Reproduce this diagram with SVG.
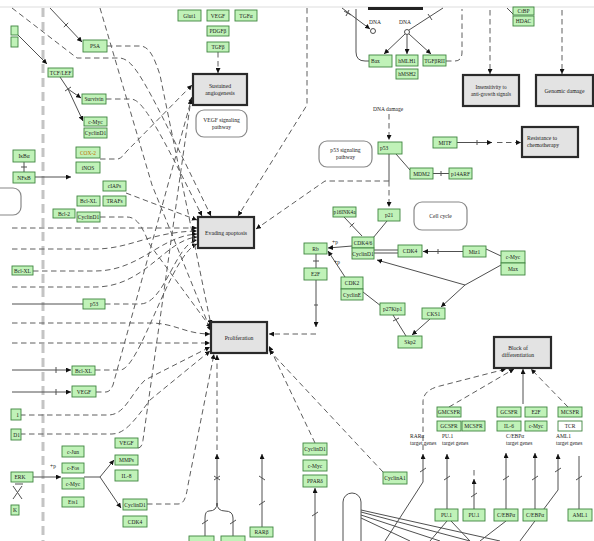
<svg xmlns="http://www.w3.org/2000/svg" width="594" height="541" viewBox="0 0 594 541">
<defs>
<marker id="a" viewBox="0 0 6 6" refX="6" refY="3" markerWidth="5" markerHeight="5" orient="auto" markerUnits="userSpaceOnUse"><path d="M0,0L6,3L0,6z" fill="#111"/></marker>
</defs>
<style>
.g rect{fill:#c0f2b8;stroke:#3f853f;stroke-width:0.9}
.g rect.w{fill:#fff}
text{font-family:"Liberation Serif",serif;font-size:5.5px;fill:#1a1a1a;text-anchor:middle}
.ph rect{fill:#e3e3e3;stroke:#2a2a2a;stroke-width:2.2}
.ph text{font-size:5.7px}
.rr rect{fill:#fff;stroke:#888;stroke-width:1.2}
.rr text{font-size:5.6px}
.lab{text-anchor:start}
.d{fill:none;stroke:#5e5e5e;stroke-width:1;stroke-dasharray:5.5 3.5}
.s{fill:none;stroke:#505050;stroke-width:1}
.m{marker-end:url(#a)}
</style>
<rect width="594" height="541" fill="#fff"/>
<line x1="0" y1="7" x2="594" y2="7" stroke="#ddd" stroke-width="1"/>
<line x1="43" y1="8" x2="43" y2="541" stroke="#c4c4c4" stroke-width="3" stroke-dasharray="9 5"/>

<g id="connectors">
<path class="d m" d="M100,159 H118 Q122,158 126,152 L192,85"/>
<path class="d m" d="M96,392 H106 Q110,392 113,385 L192,97"/>
<path class="d m" d="M138,448 Q142,448 143,440 L191,99"/>
<path class="d m" d="M218,52 V73"/>
<path class="d m" d="M126,193 L197,220"/>
<path class="d m" d="M12,228 H197"/>
<path class="d m" d="M12,249 H95 C130,249 150,232 197,231"/>
<path class="d m" d="M33,271 H95 C140,271 160,236 197,234"/>
<path class="d m" d="M12,287 H95 C145,287 165,240 197,237"/>
<path class="d m" d="M105,304 H140 C165,304 175,244 197,240"/>
<path class="d m" d="M95,370 H120 C140,370 170,255 197,244"/>
<path class="d m" d="M106,99 H130 C140,99 150,110 202,216"/>
<path class="d m" d="M12,8 L77,58 H120 C135,60 145,80 211,216"/>
<path class="d m" d="M307,8 V105 L238,216"/>
<path class="d m" d="M389,181 H325 L256,229"/>
<path class="d m" d="M107,46 H140 C150,46 155,60 160,75 L211,325"/>
<path class="d m" d="M100,8 L152,185 L211,331"/>
<path class="d m" d="M100,217 H127 C140,217 145,235 150,245 L211,328"/>
<path class="d m" d="M12,323 H150 C175,323 185,334 210,334"/>
<path class="d m" d="M12,343 H210"/>
<path class="d m" d="M20,415 H108 C125,415 130,395 145,380 L210,347"/>
<path class="d m" d="M20,434 H112 C125,434 135,420 150,400 L210,351"/>
<path class="d m" d="M147,504 H178 C184,504 186,498 188,485 L214,354"/>
<path class="d m" d="M217,450 V355"/>
<path class="d m" d="M316,334 H269"/>
<path class="d m" d="M315,443 L269,346"/>
<path class="d m" d="M383,472 L269,350"/>
<path class="d m" d="M423,450 V402 Q423,390 440,386 L506,369"/>
<path class="d m" d="M449,407 L514,369"/>
<path class="d m" d="M568,407 L531,369"/>
<path class="s m" d="M523,404 V369"/>
<path class="s m" d="M50,8 L82,42"/>
<path class="s" d="M63.8,27.1 L68.2,22.9"/>
<path class="s m" d="M15,32 L47,64"/>
<path class="s m" d="M60,77 L68,89 L81,98"/>
<path class="s m" d="M68,89 L83,121"/>
<path class="s" d="M65,91 L71,87"/>
<path class="s m" d="M35,177 H71"/>
<path class="s" d="M24,162 V172 M21,167 H27"/>
<path class="s" d="M12,304 H83"/>
<path class="s m" d="M12,370 H71"/>
<path class="s" d="M56,367 V373"/>
<path class="s m" d="M12,392 H71"/>
<path class="s" d="M56,389 V395"/>
<path class="s m" d="M33,477 H61"/>
<path class="s" d="M13,486 L22,499 M22,486 L13,499 M15,484 H23"/>
<path class="s" d="M84,477 H100"/>
<path class="s m" d="M100,477 L114,460"/>
<path class="s m" d="M100,477 L121,508"/>
<path class="s" d="M316,254 V268 M313,261 H319"/>
<path class="s m" d="M316,280 V327"/>
<path class="s" d="M314,305 H318"/>
<path class="s m" d="M352,246 L328,248"/>
<path class="s m" d="M345,277 L328,251"/>
<path class="s" d="M344,217 L362,236 M349.8,227.1 L354.2,222.9"/>
<path class="s" d="M387,221 L373,238"/>
<path class="s" d="M389,154 V181"/>
<path class="d m" d="M389,181 V207"/>
<path class="d m" d="M389,114 V140"/>
<path class="s" d="M396,154 L410,170"/>
<path class="s" d="M433,173.5 H449 M441,171 V176"/>
<path class="s m" d="M457,142.5 H492"/>
<path class="s" d="M477,140 V145"/>
<path class="d m" d="M497,142.5 H521"/>
<path class="s" d="M374,250 H398 M374,253 H398"/>
<path class="s m" d="M463,251.5 H423"/>
<path class="s" d="M438,249 V254"/>
<path class="s" d="M501,256 L486,249"/>
<path class="s" d="M501,265 L465,285"/>
<path class="s m" d="M465,285 L377,260"/>
<path class="s m" d="M465,285 L441,307"/>
<path class="s m" d="M430,319 L412,335"/>
<path class="s" d="M393,315 L406,336 M393,321 L399,318"/>
<path class="s" d="M363,292 L381,306"/>
<path class="s" d="M356,9 V52 Q356,61 365,61 H369"/>
<path class="d" d="M446,61 H455 Q462,61 462,52 V9"/>
<path class="s m" d="M342,8 L370,29"/>
<path class="s" d="M344,11 L351,15 M346,16 L349,10"/>
<path class="s" d="M409,30 L443,8 M428,14 L432,20"/>
<path class="s m" d="M405,34 L384,54"/>
<path class="s m" d="M407,35 V54"/>
<path class="s m" d="M409,34 L431,54"/>
<path class="d m" d="M490,10 V74"/>
<path class="d m" d="M562,10 V74"/>
<path class="s" d="M507,8 L514,15"/>
<path class="s m" d="M217,505 V454"/>
<path class="s" d="M214,476 L220,480 M214,480 L220,476"/>
<path class="s" d="M217,503 Q217,511 209,511 Q205,511 205,518 V537 M217,503 Q217,511 225,511 Q233,511 233,518 V537 M202,524 L208,520 M230,524 L236,520"/>
<path class="s m" d="M262,527 V454"/>
<path class="s" d="M259,476 L265,480 M259,505 L265,501"/>
<path class="s m" d="M315,541 V488"/>
<path class="s" d="M312,516 L318,512"/>
<path class="s" d="M343,541 V502 A9,9 0 0 1 361,502 V541" stroke="#777"/>
<path class="s" d="M361,510 L500,541 M361,512 L470,541 M361,515 L440,541 M361,518 L410,541"/>
<path class="s m" d="M385,541 L423,482 L423,454"/>
<path class="s" d="M420,472 L426,468"/>
<path class="s m" d="M447,509 V454"/>
<path class="s" d="M444,480 L450,476 M447,521 L430,541 M451,521 L470,541"/>
<path class="d" d="M474,470 V476"/>
<path class="s m" d="M474,509 V479"/>
<path class="s" d="M471,497 L477,493"/>
<path class="s m" d="M506,509 V453"/>
<path class="s" d="M503,480 L509,476 M506,521 L480,541"/>
<path class="s m" d="M535,509 V453"/>
<path class="s" d="M532,480 L538,476"/>
<path class="s m" d="M520,541 L558,490 L558,454"/>
<path class="s" d="M555,472 L561,468"/>
<path class="s" d="M579,509 V456 M576,480 L582,476"/>
</g>

<g id="sustained-angiogenesis" class="ph"><rect x="193" y="74" width="54" height="31"/><text x="220" y="88">Sustained</text><text x="220" y="95">angiogenesis</text></g>
<g id="evading-apoptosis" class="ph"><rect x="198" y="217" width="56" height="31"/><text x="226" y="234.5">Evading apoptosis</text></g>
<g id="proliferation" class="ph"><rect x="211" y="322" width="56" height="31"/><text x="239" y="339.5">Proliferation</text></g>
<g id="insensitivity" class="ph"><rect x="463" y="75" width="56" height="31"/><text x="491" y="89" style="font-size:5.2px">Insensitivity to</text><text x="491" y="96" style="font-size:5.2px">anti-growth signals</text></g>
<g id="genomic-damage" class="ph"><rect x="536" y="75" width="57" height="31"/><text x="564.5" y="92.5">Genomic damage</text></g>
<g id="resistance" class="ph"><rect x="522" y="127" width="56" height="30"/><text x="527" y="140" class="lab">Resistance to</text><text x="527" y="147" class="lab">chemotherapy</text></g>
<g id="block-differentiation" class="ph"><rect x="494" y="337" width="57" height="31"/><text x="518" y="350">Block of</text><text x="518" y="357">differentiation</text></g>

<g id="vegf-pathway" class="rr"><rect x="196" y="110" width="51" height="27" rx="8"/><text x="221.5" y="122">VEGF signaling</text><text x="221.5" y="129">pathway</text></g>
<g id="p53-pathway" class="rr"><rect x="319" y="141" width="53" height="26" rx="8"/><text x="345.5" y="152">p53 signaling</text><text x="345.5" y="159">pathway</text></g>
<g id="cell-cycle" class="rr"><rect x="414" y="202" width="53" height="28" rx="8"/><text x="440.5" y="218">Cell cycle</text></g>
<g id="left-map" class="rr"><rect x="-30" y="188" width="51" height="27" rx="8"/></g>

<g id="dna-frame"><line x1="368" y1="8.5" x2="423" y2="8.5" stroke="#222" stroke-width="3"/>
<circle cx="373" cy="31" r="2.5" fill="#fff" stroke="#222" stroke-width="0.8"/><text x="375" y="24">DNA</text>
<circle cx="407" cy="32" r="2.5" fill="#fff" stroke="#222" stroke-width="0.8"/><text x="405" y="24">DNA</text>
<text x="373" y="111" class="lab">DNA damage</text></g>

<g id="glut1" class="g"><rect x="178" y="10" width="23" height="11"/><text x="189.5" y="17.5">Glut1</text></g>
<g id="vegf1" class="g"><rect x="207" y="10" width="22" height="11"/><text x="218" y="17.5">VEGF</text></g>
<g id="tgfa" class="g"><rect x="235" y="10" width="22" height="11"/><text x="246" y="17.5">TGFα</text></g>
<g id="pdgfb" class="g"><rect x="207" y="26" width="22" height="10"/><text x="218" y="33">PDGFβ</text></g>
<g id="tgfb" class="g"><rect x="207" y="42" width="22" height="10"/><text x="218" y="49">TGFβ</text></g>
<g id="bax" class="g"><rect x="369" y="55" width="23" height="12"/><text x="371" y="63" class="lab">Bax</text></g>
<g id="hmlh1" class="g"><rect x="396" y="55" width="22" height="11"/><text x="407" y="62.5">hMLH1</text></g>
<g id="tgfbr2" class="g"><rect x="423" y="55" width="23" height="11"/><text x="434.5" y="62.5">TGFβRII</text></g>
<g id="hmsh2" class="g"><rect x="396" y="69" width="22" height="10"/><text x="407" y="76">hMSH2</text></g>
<g id="ctbp" class="g"><rect x="513" y="7" width="21" height="8"/><text x="523.5" y="13">CtBP</text></g>
<g id="hdac" class="g"><rect x="513" y="16" width="21" height="10"/><text x="523.5" y="23">HDAC</text></g>
<g id="p53a" class="g"><rect x="378" y="142" width="24" height="12"/><text x="380" y="150" class="lab">p53</text></g>
<g id="mdm2" class="g"><rect x="410" y="168" width="23" height="11"/><text x="421.5" y="175.5">MDM2</text></g>
<g id="p14arf" class="g"><rect x="449" y="168" width="23" height="11"/><text x="460.5" y="175.5">p14ARF</text></g>
<g id="mitf" class="g"><rect x="433" y="137" width="24" height="11"/><text x="445" y="144.5">MITF</text></g>
<g id="p21" class="g"><rect x="378" y="209" width="22" height="12"/><text x="389" y="217">p21</text></g>
<g id="p16" class="g"><rect x="333" y="207" width="23" height="10"/><text x="344.5" y="214" style="font-size:5.2px">p16INK4a</text></g>
<g id="cdk46" class="g"><rect x="352" y="237" width="22" height="11"/><text x="363" y="244.5">CDK4/6</text><rect x="352" y="248" width="22" height="11"/><text x="363" y="255.5">CyclinD1</text></g>
<g id="rb" class="g"><rect x="304" y="243" width="23" height="11"/><text x="315.5" y="250.5">Rb</text></g>
<g id="e2f" class="g"><rect x="304" y="268" width="23" height="12"/><text x="315.5" y="276">E2F</text></g>
<g id="cdk2" class="g"><rect x="341" y="277" width="22" height="12"/><text x="352" y="285">CDK2</text><rect x="341" y="289" width="22" height="11"/><text x="352" y="296.5">CyclinE</text></g>
<g id="p27" class="g"><rect x="380" y="303" width="25" height="12"/><text x="392.5" y="311">p27Kip1</text></g>
<g id="cdk4a" class="g"><rect x="398" y="245" width="24" height="12"/><text x="410" y="253">CDK4</text></g>
<g id="miz1" class="g"><rect x="463" y="246" width="23" height="11"/><text x="474.5" y="253.5">Miz1</text></g>
<g id="cmyc-max" class="g"><rect x="501" y="251" width="24" height="12"/><text x="513" y="259">c-Myc</text><rect x="501" y="263" width="24" height="12"/><text x="513" y="271">Max</text></g>
<g id="cks1" class="g"><rect x="422" y="308" width="23" height="11"/><text x="433.5" y="315.5">CKS1</text></g>
<g id="skp2" class="g"><rect x="398" y="336" width="24" height="12"/><text x="410" y="344">Skp2</text></g>
<text x="335" y="244">+p</text><text x="337" y="264">+p</text><text x="53" y="468">+p</text>

<g id="left-partial1" class="g"><rect x="11" y="26" width="7" height="9"/></g>
<g id="left-partial2" class="g"><rect x="11" y="37" width="7" height="10"/></g>
<g id="psa" class="g"><rect x="83" y="40" width="24" height="12"/><text x="95" y="48">PSA</text></g>
<g id="tcflef" class="g"><rect x="48" y="68" width="25" height="9"/><text x="60.5" y="74.5">TCF/LEF</text></g>
<g id="survivin" class="g"><rect x="82" y="94" width="24" height="10"/><text x="94" y="101">Survivin</text></g>
<g id="cmyc-cyclind1" class="g"><rect x="84" y="117" width="23" height="9"/><text x="95.5" y="123.5">c-Myc</text><rect x="84" y="128" width="23" height="10"/><text x="95.5" y="135">CyclinD1</text></g>
<g id="ikba" class="g"><rect x="13" y="150" width="22" height="12"/><text x="24" y="158">IκBα</text></g>
<g id="nfkb" class="g"><rect x="13" y="172" width="22" height="11"/><text x="24" y="179.5">NFκB</text></g>
<g id="cox2" class="g"><rect x="76" y="147" width="24" height="11"/><text x="88" y="154.5" style="fill:#c07000">COX-2</text></g>
<g id="inos" class="g"><rect x="76" y="162" width="24" height="11"/><text x="88" y="169.5">iNOS</text></g>
<g id="ciaps" class="g"><rect x="103" y="181" width="23" height="10"/><text x="114.5" y="188">cIAPs</text></g>
<g id="bclxl1" class="g"><rect x="77" y="196" width="23" height="10"/><text x="88.5" y="203">Bcl-XL</text></g>
<g id="trafs" class="g"><rect x="103" y="196" width="23" height="10"/><text x="114.5" y="203">TRAFs</text></g>
<g id="bcl2" class="g"><rect x="53" y="209" width="22" height="9"/><text x="64" y="215.5">Bcl-2</text></g>
<g id="cyclind1-b" class="g"><rect x="77" y="212" width="23" height="10"/><text x="88.5" y="219">CyclinD1</text></g>
<g id="bclxl2" class="g"><rect x="12" y="266" width="21" height="9"/><text x="22.5" y="272.5">Bcl-XL</text></g>
<g id="p53b" class="g"><rect x="83" y="299" width="22" height="10"/><text x="94" y="306">p53</text></g>
<g id="bclxl3" class="g"><rect x="72" y="366" width="23" height="9"/><text x="83.5" y="372.5">Bcl-XL</text></g>
<g id="vegf2" class="g"><rect x="72" y="386" width="24" height="11"/><text x="84" y="393.5">VEGF</text></g>
<g id="left-partial3" class="g"><rect x="11" y="409" width="10" height="11"/><text x="19" y="416.5" style="text-anchor:end">1</text></g>
<g id="left-partial4" class="g"><rect x="11" y="429" width="10" height="11"/><text x="20" y="436.5" style="text-anchor:end">D1</text></g>
<g id="erk" class="g"><rect x="11" y="472" width="22" height="10"/><text x="20" y="479">ERK</text></g>
<g id="left-partial5" class="g"><rect x="11" y="505" width="8" height="10"/><text x="17" y="512" style="text-anchor:end">K</text></g>
<g id="ap1" class="g"><rect x="62" y="446" width="22" height="11"/><text x="73" y="453.5">c-Jun</text><rect x="62" y="463" width="22" height="10"/><text x="73" y="470">c-Fos</text><rect x="62" y="478" width="22" height="11"/><text x="73" y="485.5">c-Myc</text><rect x="62" y="497" width="22" height="10"/><text x="73" y="504">Ets1</text></g>
<g id="vegf-mmps-il8" class="g"><rect x="115" y="438" width="23" height="10"/><text x="126.5" y="445">VEGF</text><rect x="115" y="455" width="23" height="10"/><text x="126.5" y="462">MMPs</text><rect x="115" y="470" width="23" height="11"/><text x="126.5" y="477.5">IL-8</text></g>
<g id="cyclind1-cdk4" class="g"><rect x="123" y="499" width="24" height="11"/><text x="135" y="506.5">CyclinD1</text><rect x="123" y="516" width="24" height="11"/><text x="135" y="523.5">CDK4</text></g>
<g id="bottom-partials" class="g"><rect x="189" y="536" width="25" height="8"/><rect x="221" y="536" width="24" height="8"/></g>
<g id="rarb" class="g"><rect x="250" y="527" width="23" height="10"/><text x="261.5" y="534">RARβ</text></g>
<g id="cyclind1-cmyc-ppard" class="g"><rect x="303" y="443" width="24" height="12"/><text x="315" y="451">CyclinD1</text><rect x="303" y="460" width="24" height="11"/><text x="315" y="467.5">c-Myc</text><rect x="303" y="475" width="24" height="12"/><text x="315" y="483">PPARδ</text></g>
<g id="cyclina1" class="g"><rect x="383" y="472" width="24" height="12"/><text x="395" y="480">CyclinA1</text></g>
<g id="pu1-targets" class="g"><rect x="437" y="407" width="24" height="10"/><text x="449" y="414">GMCSFR</text><rect x="437" y="421" width="24" height="10"/><text x="449" y="428">GCSFR</text><rect x="462" y="421" width="23" height="10"/><text x="473.5" y="428">MCSFR</text></g>
<g id="cebpa-targets" class="g"><rect x="497" y="407" width="24" height="10"/><text x="509" y="414">GCSFR</text><rect x="525" y="407" width="22" height="10"/><text x="536" y="414">E2F</text><rect x="497" y="421" width="24" height="10"/><text x="509" y="428">IL-6</text><rect x="525" y="421" width="22" height="10"/><text x="536" y="428">c-Myc</text></g>
<g id="aml1-targets" class="g"><rect x="558" y="407" width="24" height="10"/><text x="570" y="414">MCSFR</text><rect class="w" x="558" y="421" width="24" height="10"/><text x="570" y="428">TCR</text></g>
<g id="pu1a" class="g"><rect x="435" y="509" width="23" height="12"/><text x="446.5" y="517">PU.1</text></g>
<g id="pu1b" class="g"><rect x="463" y="509" width="22" height="12"/><text x="474" y="517">PU.1</text></g>
<g id="cebpa1" class="g"><rect x="494" y="509" width="24" height="12"/><text x="506" y="517">C/EBPα</text></g>
<g id="cebpa2" class="g"><rect x="523" y="509" width="24" height="12"/><text x="535" y="517">C/EBPα</text></g>
<g id="aml1" class="g"><rect x="568" y="509" width="24" height="12"/><text x="580" y="517">AML1</text></g>
<g id="target-labels">
<text x="410" y="438" class="lab">RARα</text><text x="410" y="445" class="lab">target genes</text>
<text x="442" y="438" class="lab">PU.1</text><text x="442" y="445" class="lab">target genes</text>
<text x="506" y="438" class="lab">C/EBPα</text><text x="506" y="445" class="lab">target genes</text>
<text x="556" y="438" class="lab">AML1</text><text x="556" y="445" class="lab">target genes</text>
</g>
</svg>
